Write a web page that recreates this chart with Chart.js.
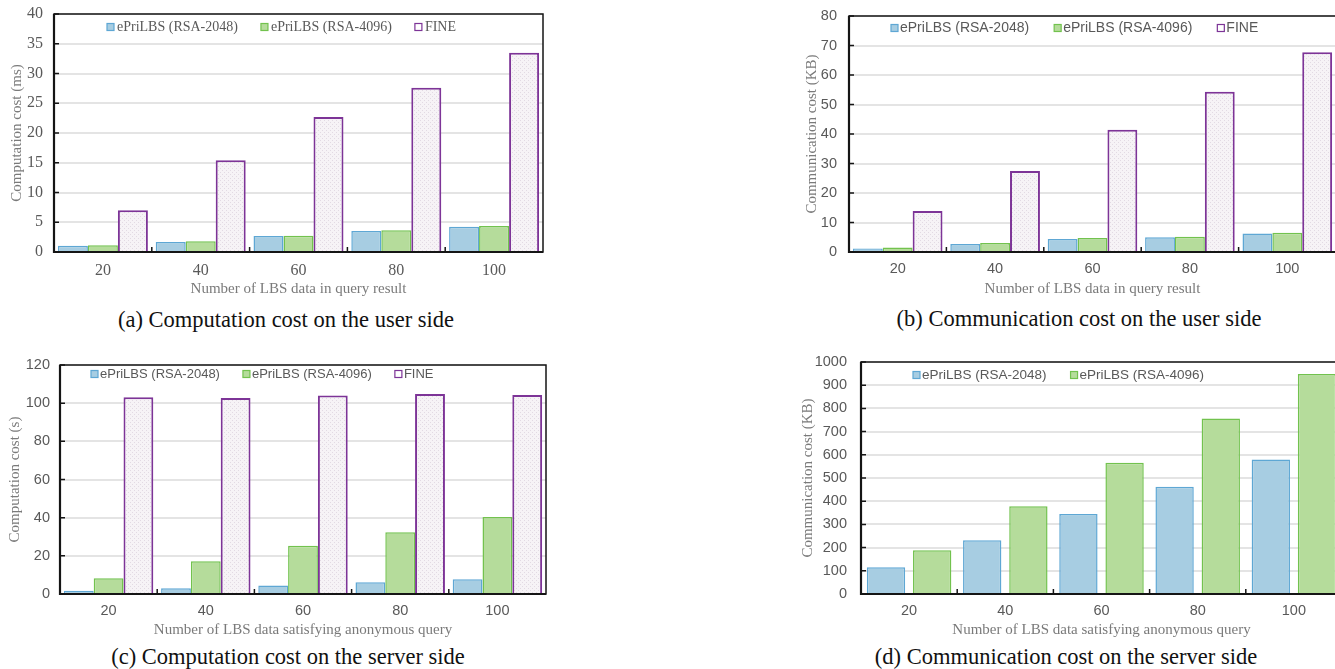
<!DOCTYPE html>
<html>
<head>
<meta charset="utf-8">
<script src="https://cdn.jsdelivr.net/npm/chart.js@4.4.1/dist/chart.umd.min.js"></script>
<style>
html,body{margin:0;padding:0;background:#fff;overflow:hidden}
body{width:1335px;height:669px;position:relative}
.panel{position:absolute}
.cap{position:absolute;width:600px;text-align:center;font-family:"Liberation Serif",serif;font-size:22.5px;line-height:26px;color:#111;white-space:nowrap}
</style>
</head>
<body>
<div class="panel" style="left:0;top:0;width:560px;height:300px"><canvas id="chartA"></canvas></div>
<div class="panel" style="left:780px;top:0;width:556px;height:300px"><canvas id="chartB"></canvas></div>
<div class="panel" style="left:0;top:340px;width:560px;height:300px"><canvas id="chartC"></canvas></div>
<div class="panel" style="left:780px;top:340px;width:562px;height:300px"><canvas id="chartD"></canvas></div>

<div class="cap" style="left:-14px;top:307px">(a) Computation cost on the user side</div>
<div class="cap" style="left:779px;top:306px">(b) Communication cost on the user side</div>
<div class="cap" style="left:-12px;top:644px">(c) Computation cost on the server side</div>
<div class="cap" style="left:766px;top:644px">(d) Communication cost on the server side</div>

<script>
// ===== Data =====
const categories = ['20', '40', '60', '80', '100'];
const seriesNames = ['ePriLBS (RSA-2048)', 'ePriLBS (RSA-4096)', 'FINE'];

// (a) computation cost, user side (ms)
const userComp2048 = [1.05, 1.7, 2.7, 3.55, 4.25];
const userComp4096 = [1.15, 1.8, 2.75, 3.65, 4.35];
const userCompFine = [7.0, 15.4, 22.7, 27.6, 33.5];

// (b) communication cost, user side (KB)
const userComm2048 = [1.15, 2.7, 4.4, 5.0, 6.3];
const userComm4096 = [1.5, 3.05, 4.75, 5.2, 6.55];
const userCommFine = [13.9, 27.5, 41.4, 54.3, 67.7];

// (c) computation cost, server side (s)
const servComp2048 = [1.7, 3.0, 4.4, 6.1, 7.7];
const servComp4096 = [8.2, 17.1, 25.3, 32.3, 40.3];
const servCompFine = [103.1, 102.7, 104.0, 104.8, 104.3];

// (d) communication cost, server side (KB)
const servComm2048 = [115, 232, 345, 462, 580];
const servComm4096 = [189, 378, 566, 756, 948];

// ===== Styles =====
function dotPattern(){
  const c = document.createElement('canvas');
  c.width = c.height = 4;
  const g = c.getContext('2d');
  g.fillStyle = '#f6f3f6'; g.fillRect(0, 0, 4, 4);
  g.fillStyle = '#e2dae3'; g.fillRect(0, 0, 1, 1); g.fillRect(2, 2, 1, 1);
  return g.createPattern(c, 'repeat');
}
const barStyle = [
  { backgroundColor:'#a7cde2', borderColor:'#5ea7d4', borderWidth:1.5 },
  { backgroundColor:'#b5dc9b', borderColor:'#72c24e', borderWidth:1.5 },
  { backgroundColor:dotPattern(), borderColor:'#7d3497', borderWidth:2 },
];
const SERIF = '"Liberation Serif", "Times New Roman", serif';
const SANS = '"Liberation Sans", Arial, sans-serif';
const titleFont = { family:SERIF, size:15 };

// frame round the plot area + inward tick marks
const frame = {
  id:'frame',
  afterDatasetsDraw(chart){
    const { ctx, chartArea:a, scales:{ x, y } } = chart;
    ctx.save();
    ctx.strokeStyle = '#151515';
    ctx.lineWidth = 1.5;
    ctx.strokeRect(a.left, a.top, a.right - a.left, a.bottom - a.top);
    ctx.lineWidth = 2.2;
    ctx.beginPath();
    ctx.moveTo(a.left, a.top); ctx.lineTo(a.left, a.bottom); ctx.lineTo(a.right, a.bottom);
    ctx.stroke();
    ctx.lineWidth = 1.5;
    ctx.beginPath();
    y.ticks.forEach(t => {
      const py = y.getPixelForValue(t.value);
      ctx.moveTo(a.left, py); ctx.lineTo(a.left + 5, py);
    });
    for (let i = 1; i < x.ticks.length; i++){
      const px = (x.getPixelForValue(i - 1) + x.getPixelForValue(i)) / 2;
      ctx.moveTo(px, a.bottom); ctx.lineTo(px, a.bottom - 5);
    }
    ctx.stroke();
    ctx.restore();
  }
};

// legend drawn inside the plot area
const innerLegend = {
  id:'innerLegend',
  afterDatasetsDraw(chart, args, o){
    const { ctx, chartArea:a } = chart;
    ctx.save();
    ctx.font = o.font;
    ctx.textBaseline = 'middle';
    let x = a.left + o.x;
    const y = a.top + o.y;
    chart.data.datasets.forEach(ds => {
      ctx.fillStyle = typeof ds.backgroundColor === 'string' ? ds.backgroundColor : '#fff';
      ctx.fillRect(x, y - 3.5, 7, 7);
      ctx.strokeStyle = ds.borderColor;
      ctx.lineWidth = 1.2;
      ctx.strokeRect(x, y - 3.5, 7, 7);
      ctx.fillStyle = '#595959';
      ctx.fillText(ds.label, x + o.textOff, y + 0.5);
      x += o.textOff + ctx.measureText(ds.label).width + o.gap;
    });
    ctx.restore();
  }
};

function makeChart(id, o){
  return new Chart(document.getElementById(id), {
    type:'bar',
    data:{
      labels:categories,
      datasets:o.series.map((data, i) => ({
        label:seriesNames[i], data, ...barStyle[i],
        categoryPercentage:o.cp, barPercentage:o.bp
      }))
    },
    options:{
      responsive:true, maintainAspectRatio:false, animation:false,
      layout:{ padding:{ top:o.padTop, right:o.padRight, left:0, bottom:0 } },
      plugins:{ legend:{display:false}, tooltip:{enabled:false}, innerLegend:o.legend },
      scales:{
        x:{
          grid:{ display:false, drawTicks:false }, border:{ display:false },
          ticks:{ font:o.tickFont, color:'#595959', padding:o.xPad },
          title:{ display:true, text:o.xTitle, font:titleFont, color:'#7a7a7a', padding:{ top:0, bottom:o.xTitlePad } },
          afterFit:s => { s.height = o.xH; }
        },
        y:{
          min:0, max:o.max,
          grid:{ color:'#e4e4e4', lineWidth:2, drawTicks:false }, border:{ display:false },
          ticks:{ stepSize:o.step, font:o.tickFont, color:'#595959', padding:o.yPad, callback:v => String(v) },
          title:{ display:true, text:o.yTitle, font:titleFont, color:'#7a7a7a', padding:{ top:o.yTitlePad, bottom:0 } },
          afterFit:s => { s.width = o.yW; s.paddingTop = 0; s.paddingBottom = 0; }
        }
      }
    },
    plugins:[frame, innerLegend]
  });
}

// ===== (a) =====
makeChart('chartA', {
  series:[userComp2048, userComp4096, userCompFine], cp:0.92, bp:1,
  padTop:14, padRight:17, yW:54, xH:48, max:40, step:5,
  tickFont:{ family:SERIF, size:16 }, xPad:9, yPad:11, xTitlePad:2, yTitlePad:8,
  xTitle:'Number of LBS data in query result', yTitle:'Computation cost (ms)',
  legend:{ font:'14px ' + SERIF, x:53, y:13, textOff:10, gap:23 }
});

// ===== (b) =====
makeChart('chartB', {
  series:[userComm2048, userComm4096, userCommFine], cp:0.92, bp:1,
  padTop:16, padRight:0, yW:69, xH:48, max:80, step:10,
  tickFont:{ family:SANS, size:14.5 }, xPad:8, yPad:12, xTitlePad:2, yTitlePad:23,
  xTitle:'Number of LBS data in query result', yTitle:'Communication cost (KB)',
  legend:{ font:'14px ' + SANS, x:42, y:12, textOff:9, gap:25 }
});

// ===== (c) =====
makeChart('chartC', {
  series:[servComp2048, servComp4096, servCompFine], cp:0.92, bp:1,
  padTop:25, padRight:14, yW:60, xH:46, max:120, step:20,
  tickFont:{ family:SANS, size:14.5 }, xPad:8, yPad:10, xTitlePad:1, yTitlePad:6,
  xTitle:'Number of LBS data satisfying anonymous query', yTitle:'Computation cost (s)',
  legend:{ font:'13px ' + SANS, x:31, y:9, textOff:9, gap:23 }
});

// ===== (d) =====
makeChart('chartD', {
  series:[servComm2048, servComm4096], cp:0.96, bp:0.83,
  padTop:22, padRight:0, yW:81, xH:46, max:1000, step:100,
  tickFont:{ family:SANS, size:14.5 }, xPad:8, yPad:14, xTitlePad:1, yTitlePad:19,
  xTitle:'Number of LBS data satisfying anonymous query', yTitle:'Communication cost (KB)',
  legend:{ font:'13.5px ' + SANS, x:52, y:13, textOff:9, gap:24 }
});
</script>
</body>
</html>
